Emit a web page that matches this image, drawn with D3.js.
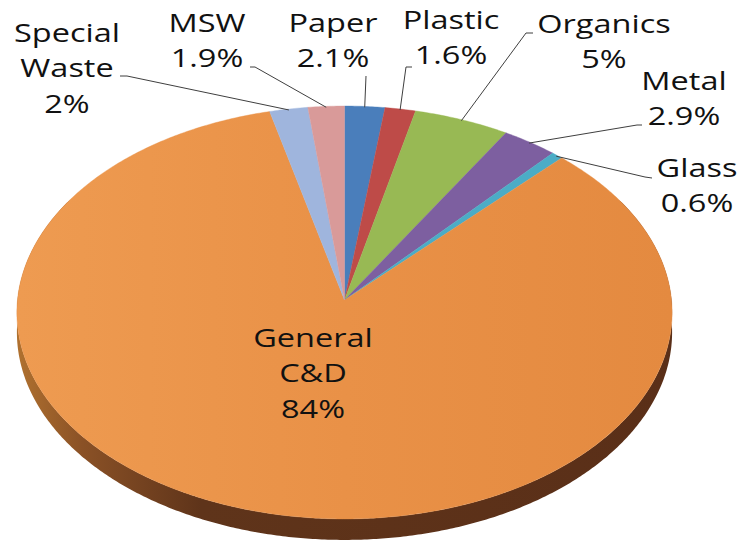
<!DOCTYPE html>
<html>
<head>
<meta charset="utf-8">
<script src="https://cdn.jsdelivr.net/npm/d3@7/dist/d3.min.js"></script>
<style>
  html, body { margin: 0; padding: 0; background: #ffffff; }
  svg { display: block; }
  .lbl { font-family: "Open Sans", sans-serif; font-size: 25px; fill: #111; }
</style>
</head>
<body>
<svg id="chart" width="738" height="542"></svg>
<script>
// Waste composition by material (share of total, %)
const categories = ["Paper", "Plastic", "Organics", "Metal", "Glass", "General C&D", "Special Waste", "MSW"];
const shares     = [2.1, 1.6, 5, 2.9, 0.6, 84, 2, 1.9];
const valueText  = ["2.1%", "1.6%", "5%", "2.9%", "0.6%", "84%", "2%", "1.9%"];
const nameLines  = [["Paper"], ["Plastic"], ["Organics"], ["Metal"], ["Glass"], ["General", "C&D"], ["Special", "Waste"], ["MSW"]];
const sliceColors = ["#4A7EBB", "#BE4B48", "#98B954", "#7D5FA0", "#4BACC6", "url(#topOrange)", "#9FB5DD", "#D99A99"];

// Tilted-disc projection (perspective: near edge larger than far edge)
const CX = 344.5, CY = 300, A = 327, B = 205.7, K = 0.0605, DEPTH = 19.7;
function proj(theta, r = 1, drop = 0) {
  const u = r * Math.sin(theta), v = -r * Math.cos(theta);
  const w = 1 - K * v;
  return [CX + A * u / w, CY + (B * v + drop) / w];
}
function arcPoints(a0, a1, r, drop) {
  const n = Math.max(2, Math.ceil((a1 - a0) / (Math.PI / 360)));
  return d3.range(n + 1).map(i => proj(a0 + (a1 - a0) * i / n, r, drop));
}

// Label placement (centre x, first baseline y) and leader-line attachment
const labelLayout = [
  { x: 333, y: 32, lead: [[366, 76]] },
  { x: 451, y: 29, lead: [[412, 67], [406, 67]] },
  { x: 604, y: 33, lead: [[533, 33], [526, 33]] },
  { x: 684, y: 90, lead: [[642, 125], [637, 125]] },
  { x: 697, y: 177, lead: [[652, 178], [645, 177]] },
  { x: 313, y: 347, lead: null },
  { x: 67,  y: 42, lead: [[120, 76], [127, 76]] },
  { x: 207, y: 32, lead: [[250, 67], [255, 67]] }
];
const LINE_H = 35.5;

const svg = d3.select("#chart");
const defs = svg.append("defs");

const topGrad = defs.append("linearGradient").attr("id", "topOrange")
  .attr("gradientUnits", "userSpaceOnUse").attr("x1", 17).attr("y1", 0).attr("x2", 672).attr("y2", 0);
topGrad.append("stop").attr("offset", "0%").attr("stop-color", "#EE9B51");
topGrad.append("stop").attr("offset", "50%").attr("stop-color", "#E99147");
topGrad.append("stop").attr("offset", "100%").attr("stop-color", "#E48A40");

const sideGrad = defs.append("linearGradient").attr("id", "sideBrown")
  .attr("gradientUnits", "userSpaceOnUse").attr("x1", 17).attr("y1", 0).attr("x2", 672).attr("y2", 0);
sideGrad.append("stop").attr("offset", "0%").attr("stop-color", "#B0712F");
sideGrad.append("stop").attr("offset", "10%").attr("stop-color", "#8A5126");
sideGrad.append("stop").attr("offset", "28%").attr("stop-color", "#5F341A");
sideGrad.append("stop").attr("offset", "100%").attr("stop-color", "#5A2F18");

const pie = d3.pie().sort(null).value(d => d).startAngle(0).endAngle(2 * Math.PI);
const arcs = pie(shares);
const line = d3.line();

// Visible rim wall of the disc (front half)
const s0 = Math.PI / 3, s1 = 5 * Math.PI / 3;
const sidePts = arcPoints(s0, s1, 1, 0).concat(arcPoints(s0, s1, 1, DEPTH).reverse());
svg.append("path").attr("d", line(sidePts) + "Z").attr("fill", "url(#sideBrown)");

// Top face slices
svg.append("g").selectAll("path").data(arcs).join("path")
  .attr("d", d => line([[CX, CY]].concat(arcPoints(d.startAngle, d.endAngle, 1, 0))) + "Z")
  .attr("fill", (d, i) => sliceColors[i])
  .attr("stroke", (d, i) => i === 5 ? "#E99147" : sliceColors[i])
  .attr("stroke-width", 0.4)
  .attr("stroke-linejoin", "round");

// Leader lines
const leaders = svg.append("g").attr("fill", "none").attr("stroke", "#3f3f3f").attr("stroke-width", 1);
arcs.forEach((d, i) => {
  const lay = labelLayout[i];
  if (!lay.lead) return;
  const mid = (d.startAngle + d.endAngle) / 2;
  const pts = lay.lead.concat([proj(mid, 0.995, 0)]);
  leaders.append("path").attr("d", line(pts));
});

// Labels: category name lines followed by the value
const labels = svg.append("g");
arcs.forEach((d, i) => {
  const lay = labelLayout[i];
  const rows = nameLines[i].concat([valueText[i]]);
  const g = labels.append("g").attr("transform", `translate(${lay.x},${lay.y}) scale(1.3,1)`);
  rows.forEach((t, j) => {
    g.append("text").attr("class", "lbl").attr("text-anchor", "middle")
      .attr("x", 0).attr("y", j * LINE_H).text(t);
  });
});
</script>
</body>
</html>
